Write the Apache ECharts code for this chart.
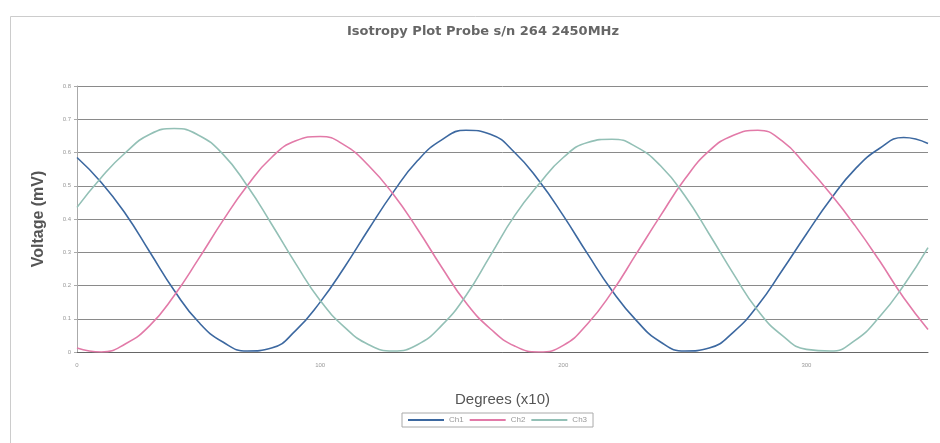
<!DOCTYPE html>
<html>
<head>
<meta charset="utf-8">
<script src="https://cdn.jsdelivr.net/npm/echarts@6/dist/echarts.min.js"></script>
<style>
html, body { margin: 0; padding: 0; background: #fff; }
#chart { width: 940px; height: 443px; }
</style>
</head>
<body>
<div id="chart"></div>
<script>
// sample positions (x axis, "Degrees (x10)")
var degrees = [0, 10, 20, 30, 40, 50, 60, 70, 80, 90, 100, 110, 120, 130, 140, 150, 160, 170,
	180, 190, 200, 210, 220, 230, 240, 250, 260, 270, 280, 290, 300, 310, 320, 330, 340, 350];

// voltages (mV)
var ch1 = [0.585, 0.51, 0.415, 0.3, 0.185, 0.09, 0.03, 0.003, 0.012, 0.065, 0.15, 0.255,
	0.37, 0.48, 0.575, 0.638, 0.667, 0.655, 0.6, 0.515, 0.41, 0.295, 0.185, 0.095,
	0.03, 0.003, 0.012, 0.06, 0.14, 0.245, 0.355, 0.46, 0.55, 0.612, 0.645, 0.627];
var ch2 = [0.012, 0.0, 0.025, 0.08, 0.17, 0.28, 0.395, 0.5, 0.585, 0.635, 0.648, 0.622,
	0.56, 0.475, 0.37, 0.255, 0.148, 0.07, 0.018, 0.0, 0.02, 0.085, 0.18, 0.295,
	0.41, 0.52, 0.605, 0.652, 0.667, 0.635, 0.56, 0.475, 0.38, 0.275, 0.163, 0.068];
var ch3 = [0.435, 0.525, 0.6, 0.655, 0.672, 0.652, 0.595, 0.5, 0.385, 0.265, 0.155, 0.075,
	0.022, 0.003, 0.022, 0.08, 0.17, 0.29, 0.41, 0.505, 0.585, 0.63, 0.64, 0.617,
	0.56, 0.47, 0.355, 0.235, 0.125, 0.05, 0.008, 0.003, 0.035, 0.105, 0.2, 0.314];

var seriesNames = ['Ch1', 'Ch2', 'Ch3'];
var seriesColors = ['#3c68a0', '#e27aa8', '#93c0b6'];

function pairs(vals) {
	return degrees.map(function(d, i) { return [d, vals[i]]; });
}

var myChart = echarts.init(document.getElementById('chart'));
var font = 'Liberation Sans';

var option = {
	backgroundColor: '#fff',
	animation: false,
	title: {
		text: 'Isotropy Plot Probe s/n 264 2450MHz',
		left: 478,
		top: 20,
		textAlign: 'center',
		textStyle: {
			color: '#666',
			fontSize: 13,
			fontWeight: 'bold',
			fontFamily: 'DejaVu Sans'
		}
	},
	grid: {
		left: 77,
		right: 12,
		top: 86,
		bottom: 91
	},
	legend: {
		data: seriesNames,
		left: 402,
		top: 413,
		icon: 'rect',
		itemWidth: 36,
		itemHeight: 2,
		itemGap: 6,
		padding: [3, 6],
		borderColor: '#aaa',
		borderWidth: 1,
		textStyle: {
			color: '#999',
			fontSize: 8,
			fontFamily: font
		}
	},
	xAxis: {
		type: 'value',
		min: 0,
		max: 350,
		interval: 100,
		name: 'Degrees (x10)',
		nameLocation: 'middle',
		nameGap: 40,
		nameTextStyle: {
			color: '#555',
			fontSize: 15,
			fontFamily: font
		},
		axisLine: { lineStyle: { color: '#666', width: 1 } },
		axisTick: { show: false },
		axisLabel: {
			showMaxLabel: false,
			color: '#999',
			fontSize: 6,
			margin: 10,
			fontFamily: font
		},
		splitLine: { show: false }
	},
	yAxis: {
		type: 'value',
		min: 0,
		max: 0.8,
		interval: 0.1,
		name: 'Voltage (mV)',
		nameLocation: 'middle',
		nameGap: 30,
		nameTextStyle: {
			color: '#555',
			fontSize: 16,
			fontWeight: 'bold',
			fontFamily: font
		},
		axisLine: { show: true, lineStyle: { color: '#aaa' } },
		axisTick: { show: true, length: 3, lineStyle: { color: '#aaa' } },
		axisLabel: {
			color: '#999',
			fontSize: 6,
			margin: 6,
			fontFamily: font,
			formatter: function(v) { return v === 0 ? '0' : v.toFixed(1); }
		},
		splitLine: { lineStyle: { color: '#8a8a8a', width: 1 } }
	},
	graphic: [{
		type: 'rect',
		left: 8,
		top: 14,
		shape: { width: 931, height: 440 },
		style: { fill: 'none', stroke: '#ccc', lineWidth: 1 },
		silent: true
	}],
	series: [ch1, ch2, ch3].map(function(vals, i) {
		return {
			name: seriesNames[i],
			type: 'line',
			data: pairs(vals),
			smooth: 0.5,
			symbol: 'none',
			lineStyle: { color: seriesColors[i], width: 1.6 },
			itemStyle: { color: seriesColors[i] }
		};
	})
};

myChart.setOption(option);
</script>
</body>
</html>
